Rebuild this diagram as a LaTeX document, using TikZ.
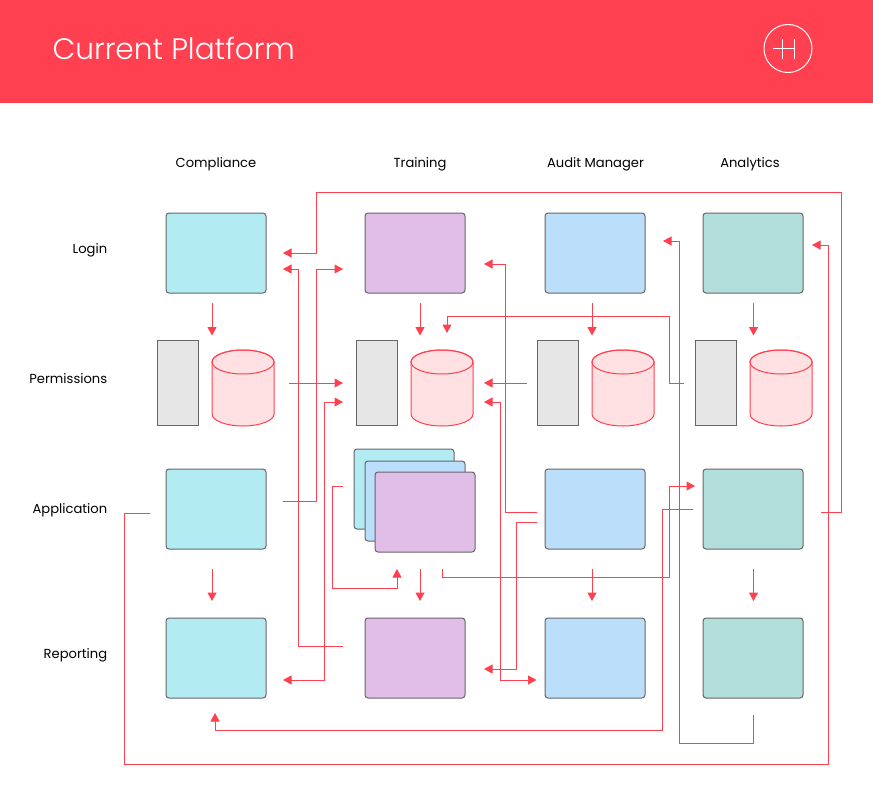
\documentclass[tikz,border=0pt]{standalone}
\usepackage{fontspec}
\setmainfont{Poppins}
\newfontfamily\titlefont{Poppins}[UprightFont=* Light]
\usetikzlibrary{arrows.meta}
\definecolor{redline}{HTML}{FF4050}
\definecolor{tealbox}{HTML}{B2EBF2}
\definecolor{purplebox}{HTML}{E1BEE7}
\definecolor{bluebox}{HTML}{BBDEFB}
\definecolor{greenbox}{HTML}{B2DFDB}
\definecolor{pinkdb}{HTML}{FFE0E3}
\definecolor{greyrack}{HTML}{E6E6E6}
\definecolor{greyline}{HTML}{666666}

\begin{document}
\begin{tikzpicture}[x=1pt,y=-1pt,line width=1pt,
  box/.style={draw=greyline,rounded corners=3pt,minimum width=100pt,minimum height=80pt,inner sep=0pt,outer sep=0pt},
  rack/.style={draw=greyline,fill=greyrack,minimum width=41pt,minimum height=85pt,inner sep=0pt,outer sep=0pt},
  db/.pic={
    \filldraw[draw=redline,fill=pinkdb] (-31,-26) -- (-31,26)
      arc[start angle=180,end angle=360,x radius=31pt,y radius=12pt] -- (31,-26)
      arc[start angle=0,end angle=180,x radius=31pt,y radius=12pt] -- cycle;
    \draw[redline] (0,-26) ellipse [x radius=31pt,y radius=12pt];
  },
  rowlabel/.style={anchor=east,text height=10pt,text depth=3pt,font=\fontsize{13.1}{15}\selectfont},
  collabel/.style={text height=10pt,text depth=3pt,font=\fontsize{13.1}{15}\selectfont},
  flow/.style={draw=redline,-{Triangle[length=8.5pt,width=9pt]}},
  flowboth/.style={draw=redline,{Triangle[length=8.5pt,width=9pt]}-{Triangle[length=8.5pt,width=9pt]}}]
\useasboundingbox (0,0) rectangle (873,787);
%%Header
\fill[redline] (0,0) rectangle (873,103);
\node (title) [anchor=west,white,inner sep=0pt,font=\titlefont\fontsize{29.6}{32}\selectfont] at (52,48) {Current Platform};
\node (logo) [draw=white,circle,minimum size=48pt,inner sep=0pt] at (788,48.5) {};
\coordinate (logoW) at (772.5,48.5);
\coordinate (logoE) at (794,48.5);
\coordinate (logoAT) at (782,39);
\coordinate (logoAB) at (782,59);
\coordinate (logoBT) at (794,39);
\coordinate (logoBB) at (794,59);
\draw[white,line width=.7pt] (logoW) -- (logoE);
\draw[white,line width=.7pt] (logoAT) -- (logoAB);
\draw[white,line width=.7pt] (logoBT) -- (logoBB);
%%Label
\node (colCompliance) [collabel] at (216,163.5) {Compliance};
\node (colTraining) [collabel] at (420,163.5) {Training};
\node (colAudit) [collabel] at (595.5,163.5) {Audit Manager};
\node (colAnalytics) [collabel] at (750,163.5) {Analytics};
\node (rowLogin) [rowlabel] at (111,249.5) {Login};
\node (rowPermissions) [rowlabel] at (111,379.5) {Permissions};
\node (rowApplication) [rowlabel] at (111,509.5) {Application};
\node (rowReporting) [rowlabel] at (111,654.5) {Reporting};
%%Login
\node (loginC) [box,fill=tealbox] at (216,253) {};
\node (loginT) [box,fill=purplebox] at (415,253) {};
\node (loginA) [box,fill=bluebox] at (595,253) {};
\node (loginY) [box,fill=greenbox] at (753,253) {};
%%Permissions
\node (rackC) [rack] at (177.5,383) {};
\node (rackT) [rack] at (376.5,383) {};
\node (rackA) [rack] at (557.5,383) {};
\node (rackY) [rack] at (715.5,383) {};
\pic (dbC) at (243,388) {db};
\pic (dbT) at (442,388) {db};
\pic (dbA) at (623,388) {db};
\pic (dbY) at (781,388) {db};
%%Application
\node (appC) [box,fill=tealbox] at (216,509) {};
\node (stackA) [box,fill=tealbox] at (404,489) {};
\node (stackB) [box,fill=bluebox] at (415,501) {};
\node (stackC) [box,fill=purplebox] at (425,512) {};
\node (appA) [box,fill=bluebox] at (595,509) {};
\node (appY) [box,fill=greenbox] at (753,509) {};
%%Reporting
\node (repC) [box,fill=tealbox] at (216,658) {};
\node (repT) [box,fill=purplebox] at (415,658) {};
\node (repA) [box,fill=bluebox] at (595,658) {};
\node (repY) [box,fill=greenbox] at (753,658) {};
%%Location
\coordinate (downCa) at (212,303);
\coordinate (downCb) at (212,335.5);
\coordinate (downTa) at (420,303);
\coordinate (downTb) at (420,335.5);
\coordinate (downAa) at (592,303);
\coordinate (downAb) at (592,335.5);
\coordinate (downYa) at (753.5,303);
\coordinate (downYb) at (753.5,335.5);
\coordinate (dnCa) at (212,569);
\coordinate (dnCb) at (212,601);
\coordinate (dnTa) at (420,569);
\coordinate (dnTb) at (420,601);
\coordinate (dnAa) at (592,569);
\coordinate (dnAb) at (592,601);
\coordinate (dnYa) at (753.5,569);
\coordinate (dnYb) at (753.5,601);
\coordinate (appYout) at (821,512);
\coordinate (loginCinA) at (283,253);
\coordinate (repTout) at (343,646);
\coordinate (loginCinB) at (283,269);
\coordinate (appCout) at (283,501);
\coordinate (loginTin) at (343,269);
\coordinate (dbCout) at (289,383);
\coordinate (rackTinA) at (343,383);
\coordinate (repCin) at (283,680);
\coordinate (rackTinB) at (343,402);
\coordinate (stackOut) at (343,486);
\coordinate (stackIn) at (397,569);
\coordinate (stackRight) at (442,569);
\coordinate (appYin) at (695,486);
\coordinate (rackAout) at (527,383);
\coordinate (dbTinA) at (484,383);
\coordinate (rackYout) at (684,383);
\coordinate (dbTtop) at (447,333);
\coordinate (appAoutA) at (537,512);
\coordinate (loginTinR) at (484,264);
\coordinate (appAoutB) at (537,522.5);
\coordinate (repTin) at (484,669);
\coordinate (dbTinB) at (484,402);
\coordinate (repAin) at (536.5,680);
\coordinate (appYoutL) at (693,509);
\coordinate (repCtop) at (215,713);
\coordinate (repYout) at (753.5,715);
\coordinate (loginAin) at (663,241);
\coordinate (appCoutL) at (150,513);
\coordinate (loginYin) at (812,245);
%%Arrows
\draw[flow] (downCa) -- (downCb);
\draw[flow] (downTa) -- (downTb);
\draw[flow] (downAa) -- (downAb);
\draw[flow] (downYa) -- (downYb);
\draw[flow] (dnCa) -- (dnCb);
\draw[flow] (dnTa) -- (dnTb);
\draw[flow] (dnAa) -- (dnAb);
\draw[flow] (dnYa) -- (dnYb);
\draw[flow] (appYout) -- (841,512) -- (841,192) -- (316,192) -- (316,253) -- (loginCinA);
\draw[flow] (repTout) -- (298,646) -- (298,269) -- (loginCinB);
\draw[flow] (appCout) -- (316,501) -- (316,269) -- (loginTin);
\draw[flow] (dbCout) -- (rackTinA);
\draw[flowboth] (repCin) -- (324,680) -- (324,402) -- (rackTinB);
\draw[flow] (stackOut) -- (332,486) -- (332,588) -- (397,588) -- (stackIn);
\draw[flow] (stackRight) -- (442,577) -- (669,577) -- (669,486) -- (appYin);
\draw[flow] (rackAout) -- (dbTinA);
\draw[flow] (rackYout) -- (669,383) -- (669,316) -- (447,316) -- (dbTtop);
\draw[flow] (appAoutA) -- (505,512) -- (505,264) -- (loginTinR);
\draw[flow] (appAoutB) -- (516,522.5) -- (516,669) -- (repTin);
\draw[flowboth] (dbTinB) -- (500,402) -- (500,680) -- (repAin);
\draw[flow] (appYoutL) -- (662,509) -- (662,730) -- (215,730) -- (repCtop);
\draw[flow] (repYout) -- (753.5,743) -- (679,743) -- (679,241) -- (loginAin);
\draw[flow] (appCoutL) -- (124,513) -- (124,764) -- (828,764) -- (828,245) -- (loginYin);
\end{tikzpicture}
\end{document}
